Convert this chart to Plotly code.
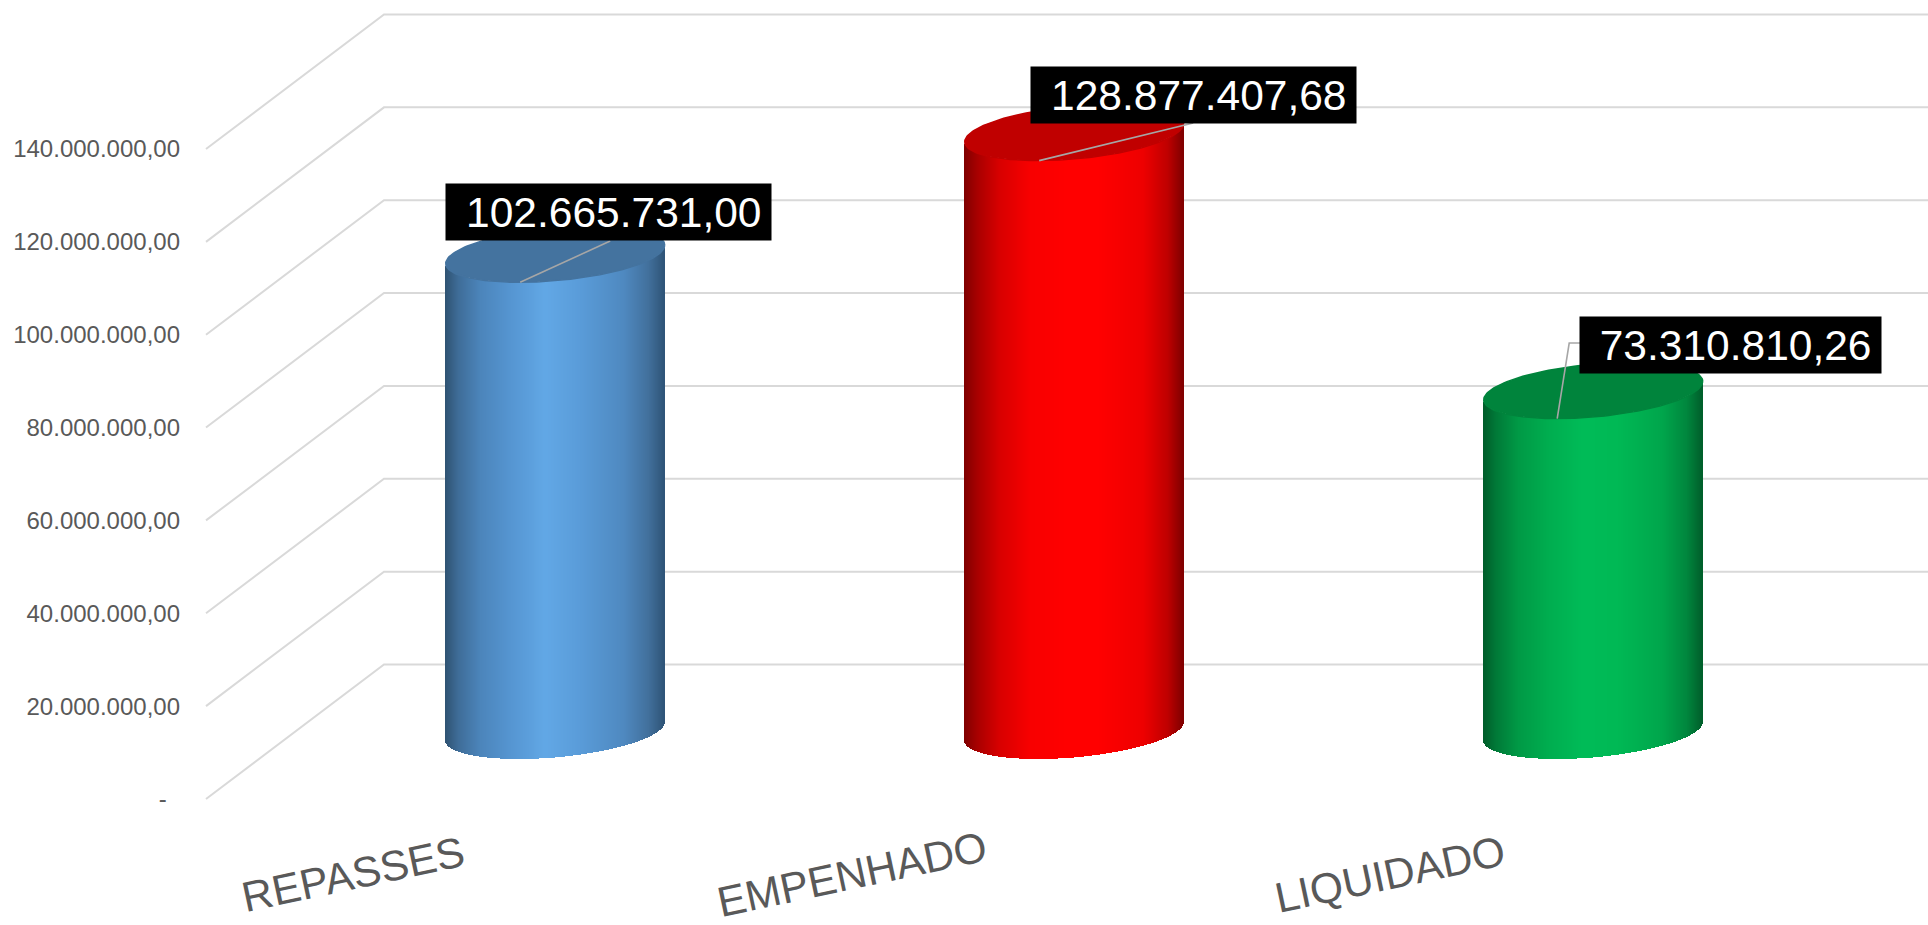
import numpy as np
import plotly.graph_objects as go

# ---- data ----
categories = ["REPASSES", "EMPENHADO", "LIQUIDADO"]
values = [102665731.00, 128877407.68, 73310810.26]
value_labels = ["102.665.731,00", "128.877.407,68", "73.310.810,26"]
tick_values = [0, 20e6, 40e6, 60e6, 80e6, 100e6, 120e6, 140e6]
tick_labels = ["-\u00a0\u00a0", "20.000.000,00", "40.000.000,00", "60.000.000,00",
               "80.000.000,00", "100.000.000,00", "120.000.000,00", "140.000.000,00"]

# ---- geometry of the fake 3-D scene (px per unit of the two axes) ----
W, H = 1928, 925
PX_PER_UNIT_Y = 4.643e-6
PX_PER_CAT = 519.0
ZERO_PX = 799.0
CENTER0_PX = 555.2
LEFT_MARGIN = 181
FLOOR = 68 / PX_PER_UNIT_Y      # cylinder floor level above the front zero
WALL_RISE = 134.5 / PX_PER_UNIT_Y
FRONT_X = (206 - CENTER0_PX) / PX_PER_CAT
BACK_X = (384 - CENTER0_PX) / PX_PER_CAT
A = 109.5 / PX_PER_CAT          # cylinder radius on x
SKEW = 9.25 / PX_PER_UNIT_Y     # ellipse tilt
B = 26.4 / PX_PER_UNIT_Y        # ellipse half height
N = 220

xr = [(LEFT_MARGIN - CENTER0_PX) / PX_PER_CAT, (W - CENTER0_PX) / PX_PER_CAT]
yr = [(ZERO_PX - H) / PX_PER_UNIT_Y, ZERO_PX / PX_PER_UNIT_Y]

stops = [0.0, 0.06, 0.16, 0.30, 0.46, 0.62, 0.82, 0.93, 1.0]
body_colors = [
    ["#2f5372", "#3f6d98", "#4c85bb", "#5696d2", "#62a8e6", "#5a9cd9", "#4f89c0", "#42709c", "#2f5578"],
    ["#7f0000", "#a80000", "#d80000", "#f80000", "#ff0000", "#ff0000", "#ee0000", "#bf0000", "#800000"],
    ["#005c2a", "#007a38", "#009a46", "#00ae50", "#00bc58", "#00b955", "#00a64c", "#00873e", "#005f2b"],
]
top_colors = ["#44739f", "#c00000", "#00843c"]
gridline_color = "#d9d9d9"
leader_color = "#a6a6a6"
text_color = "#595959"

box_dx = [-110.5, -44.5, -14.5]
box_dy = [71.0, 66.6, 74.6]
box_w = [325, 325, 301]
box_h = 56
leader_start_dx = [-35, -35, -36]
leader_mid = [[(55, 13.3)], [(119, 9.6)], [(-24, 47.6), (-12, 47.6)]]
label_x_px = [353, 852, 1390]
label_y_px = 874


def hex2rgb(h):
    return [int(h[i:i + 2], 16) for i in (1, 3, 5)]


def shade(colors, t):
    rgb = np.array([hex2rgb(c) for c in colors], dtype=float)
    out = [np.interp(t, stops, rgb[:, k]) for k in range(3)]
    return ["rgb(%d,%d,%d)" % (r, g, b) for r, g, b in zip(*out)]


fig = go.Figure()

# cylinder bodies: thin bars whose base follows the front of the ellipse
u = (np.arange(N) + 0.5) / N * 2 - 1
for i, v in enumerate(values):
    base = FLOOR + SKEW * u - B * np.sqrt(1 - u ** 2)
    fig.add_trace(go.Bar(
        x=i + A * u, y=np.full(N, v), base=base,
        width=np.full(N, 2 * A / N * 1.6),
        marker=dict(color=shade(body_colors[i], (u + 1) / 2), line=dict(width=0)),
        hoverinfo="skip", showlegend=False))

# cylinder tops
th = np.linspace(0, 2 * np.pi, 181)
for i, v in enumerate(values):
    fig.add_trace(go.Scatter(
        x=i + A * np.cos(th),
        y=FLOOR + v + SKEW * np.cos(th) - B * np.sin(th),
        mode="lines", fill="toself", fillcolor=top_colors[i],
        line=dict(width=1.5, color=top_colors[i]),
        hoverinfo="skip", showlegend=False))

# leader lines
for i, v in enumerate(values):
    cy = FLOOR + v
    xs = [i + leader_start_dx[i] / PX_PER_CAT]
    ys = [cy - 28 / PX_PER_UNIT_Y]
    for dx, dy in leader_mid[i]:
        xs.append(i + dx / PX_PER_CAT)
        ys.append(cy + dy / PX_PER_UNIT_Y)
    fig.add_trace(go.Scatter(x=xs, y=ys, mode="lines",
                             line=dict(color=leader_color, width=1.6),
                             hoverinfo="skip", showlegend=False))

# walls: gridlines running from the front edge to the back wall, then right
shapes = []
for t in tick_values:
    path = "M %f %f L %f %f L %f %f" % (FRONT_X, t, BACK_X, t + WALL_RISE, xr[1], t + WALL_RISE)
    shapes.append(dict(type="path", xref="x", yref="y", path=path, layer="below",
                       line=dict(color=gridline_color, width=2)))

annotations = []
for i, v in enumerate(values):
    annotations.append(dict(
        x=i + box_dx[i] / PX_PER_CAT, y=FLOOR + v + box_dy[i] / PX_PER_UNIT_Y,
        xref="x", yref="y", xanchor="left", yanchor="top", showarrow=False,
        text=value_labels[i] + "\u2009", align="right", valign="middle",
        width=box_w[i] - 2, height=box_h - 2, borderpad=1, bgcolor="#000000",
        font=dict(family="Liberation Sans", size=42.5, color="#ffffff")))
for i, c in enumerate(categories):
    annotations.append(dict(
        x=(label_x_px[i] - CENTER0_PX) / PX_PER_CAT, y=(ZERO_PX - label_y_px) / PX_PER_UNIT_Y,
        xref="x", yref="y", xanchor="center", yanchor="middle", showarrow=False,
        text=c, textangle=-12,
        font=dict(family="Liberation Sans", size=42.5, color=text_color)))

fig.update_layout(
    width=W, height=H, autosize=False,
    margin=dict(l=LEFT_MARGIN, r=0, t=0, b=0, autoexpand=False),
    paper_bgcolor="#ffffff", plot_bgcolor="rgba(0,0,0,0)",
    barmode="overlay", bargap=0, showlegend=False,
    shapes=shapes, annotations=annotations,
    xaxis=dict(range=xr, visible=False, fixedrange=True),
    yaxis=dict(range=yr, tickmode="array", tickvals=tick_values, ticktext=tick_labels,
               showgrid=False, zeroline=False, showline=False, ticks="", fixedrange=True,
               tickfont=dict(family="Liberation Sans", size=24, color=text_color)),
)

fig.write_html("out.html", config=dict(displayModeBar=False),
               post_script="document.body.style.margin='0';document.body.style.overflow='hidden';")
